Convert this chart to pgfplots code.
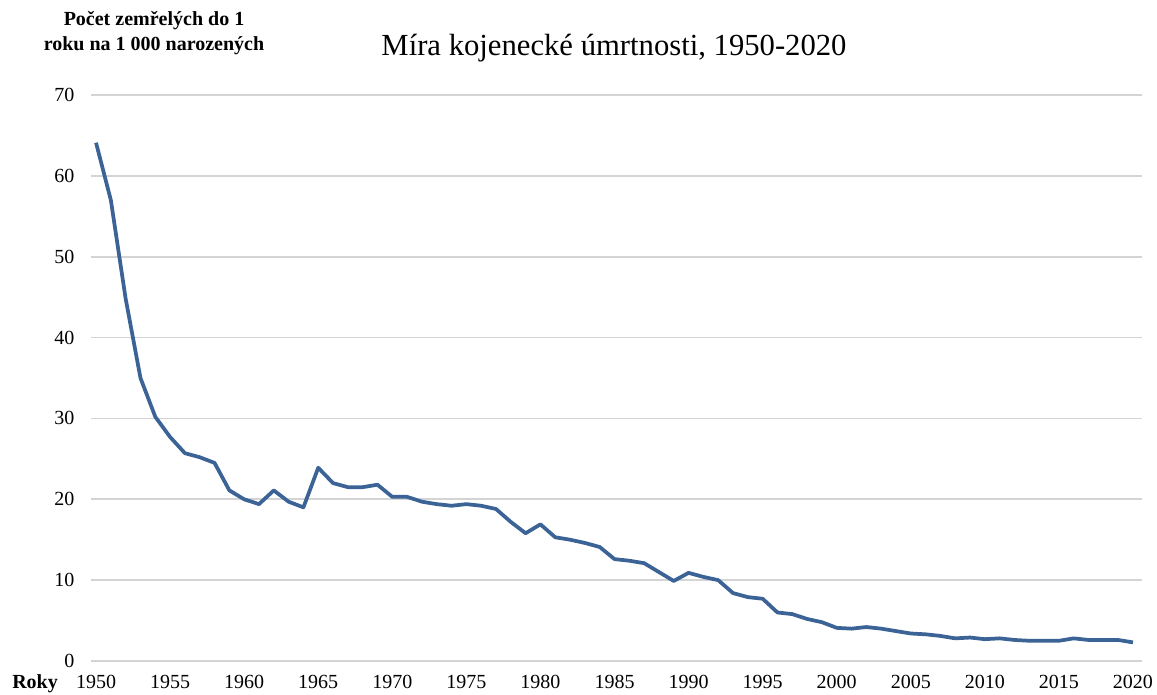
\documentclass[border=0pt]{standalone}
\usepackage{fontspec}
\setmainfont{Liberation Serif}
\usepackage{pgfplots}
\pgfplotsset{compat=1.18}
\definecolor{linieblue}{RGB}{59,99,150}
\definecolor{gridgray}{RGB}{212,212,212}

\begin{document}
\begin{tikzpicture}
\useasboundingbox (-68.25pt,-25.5pt) rectangle (799.5pt,495.75pt);
\begin{axis}[
  scale only axis,
  width=788.25pt, height=424.5pt,
  xmin=1949.66, xmax=2020.61,
  ymin=0, ymax=70,
  xtick={1950,1955,...,2020},
  ytick={0,10,...,70},
  axis line style={draw=none},
  major tick length=0pt,
  ymajorgrids,
  grid style={gridgray, line width=1.2pt},
  /pgf/number format/assume math mode=true,
  /pgf/number format/1000 sep={},
  tick label style={font=\fontsize{15}{18}\selectfont},
  xticklabel style={yshift=-7pt},
  yticklabel style={xshift=-9pt},
]
\addplot[linieblue, line width=2.8pt, line join=round, mark=none] coordinates {
(1950,64.1) (1951,57.0) (1952,44.8) (1953,35.0) (1954,30.2)
(1955,27.7) (1956,25.7) (1957,25.2) (1958,24.5) (1959,21.1)
(1960,20.0) (1961,19.4) (1962,21.1) (1963,19.7) (1964,19.0)
(1965,23.9) (1966,22.0) (1967,21.5) (1968,21.5) (1969,21.8)
(1970,20.3) (1971,20.3) (1972,19.7) (1973,19.4) (1974,19.2)
(1975,19.4) (1976,19.2) (1977,18.8) (1978,17.2) (1979,15.8)
(1980,16.9) (1981,15.3) (1982,15.0) (1983,14.6) (1984,14.1)
(1985,12.6) (1986,12.4) (1987,12.1) (1988,11.0) (1989,9.9)
(1990,10.9) (1991,10.4) (1992,10.0) (1993,8.4) (1994,7.9)
(1995,7.7) (1996,6.0) (1997,5.8) (1998,5.2) (1999,4.8)
(2000,4.1) (2001,4.0) (2002,4.2) (2003,4.0) (2004,3.7)
(2005,3.4) (2006,3.3) (2007,3.1) (2008,2.8) (2009,2.9)
(2010,2.7) (2011,2.8) (2012,2.6) (2013,2.5) (2014,2.5)
(2015,2.5) (2016,2.8) (2017,2.6) (2018,2.6) (2019,2.6)
(2020,2.3)
};
\end{axis}
\node[anchor=base, inner sep=0pt, font=\fontsize{23}{27}\selectfont] at (392.25pt,453.75pt) {Míra kojenecké úmrtnosti, 1950-2020};
\node[anchor=base, inner sep=0pt, font=\fontsize{15}{18}\selectfont\bfseries] at (47.25pt,476.25pt) {Počet zemřelých do 1};
\node[anchor=base, inner sep=0pt, font=\fontsize{15}{18}\selectfont\bfseries] at (47.25pt,457.5pt) {roku na 1 000 narozených};
\node[anchor=base west, inner sep=0pt, font=\fontsize{15}{18}\selectfont\bfseries] at (-59.25pt,-21pt) {Roky};
\end{tikzpicture}
\end{document}
